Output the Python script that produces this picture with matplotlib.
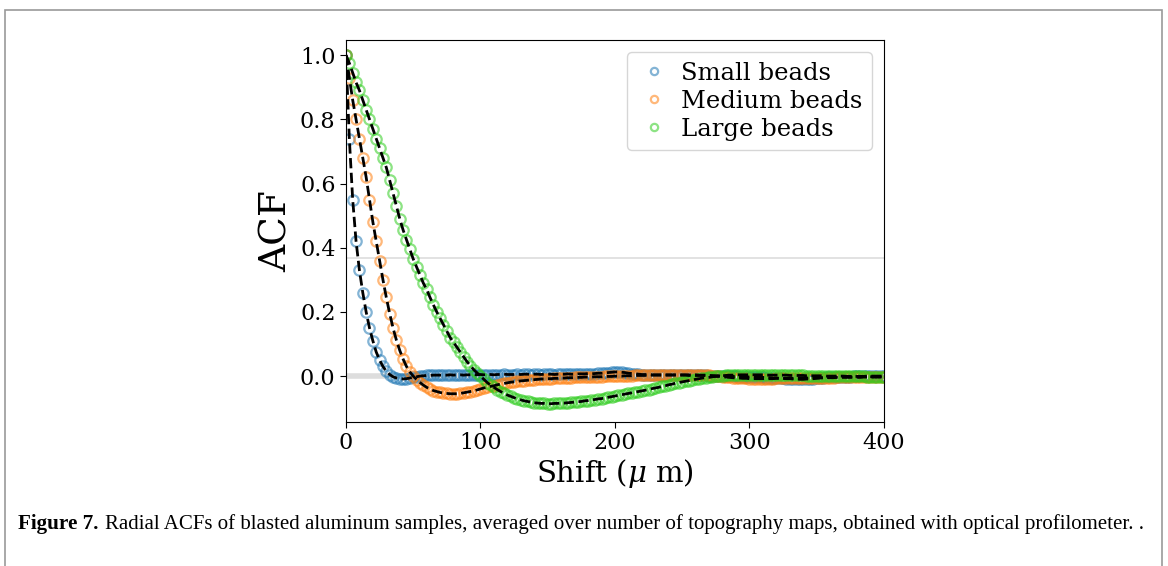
import matplotlib.pyplot as plt
import numpy as np
from matplotlib.patches import Rectangle

# Shift grid (micrometres) shared by all three ACF curves
shift = np.arange(0, 400.1, 2.5)

# Radial ACF values, one per shift value
small_acf = [
    1.00, 0.74, 0.55, 0.42, 0.33, 0.26, 0.20, 0.15, 0.11, 0.075,
    0.05, 0.03, 0.015, 0.005, -0.002, -0.006, -0.008, -0.009, -0.008, -0.006,
    -0.004, -0.002, 0.0, 0.001, 0.002, 0.002, 0.003, 0.003, 0.003, 0.003,
    0.003, 0.004, 0.003, 0.004, 0.004, 0.003, 0.004, 0.004, 0.005, 0.004,
    0.005, 0.004, 0.005, 0.005, 0.004, 0.005, 0.005, 0.006, 0.005, 0.005,
    0.005, 0.006, 0.005, 0.006, 0.006, 0.005, 0.006, 0.006, 0.005, 0.006,
    0.006, 0.006, 0.005, 0.006, 0.006, 0.006, 0.007, 0.006, 0.006, 0.007,
    0.007, 0.007, 0.008, 0.007, 0.008, 0.009, 0.009, 0.010, 0.011, 0.012,
    0.013, 0.013, 0.012, 0.011, 0.009, 0.008, 0.007, 0.006, 0.005, 0.005,
    0.005, 0.004, 0.004, 0.004, 0.004, 0.003, 0.003, 0.003, 0.003, 0.003,
    0.003, 0.003, 0.002, 0.002, 0.002, 0.002, 0.002, 0.002, 0.001, 0.001,
    0.001, 0.001, 0.0, 0.0, -0.001, -0.001, -0.001, -0.002, -0.002, -0.002,
    -0.003, -0.003, -0.003, -0.004, -0.004, -0.005, -0.005, -0.006, -0.006, -0.007,
    -0.007, -0.008, -0.008, -0.009, -0.009, -0.010, -0.010, -0.009, -0.009, -0.008,
    -0.007, -0.006, -0.005, -0.004, -0.004, -0.003, -0.003, -0.002, -0.002, -0.002,
    -0.002, -0.001, -0.001, -0.001, -0.001, 0.0, 0.0, 0.0, 0.0, 0.0, 0.0,
]

medium_acf = [
    1.00, 0.93, 0.86, 0.80, 0.74, 0.68, 0.62, 0.55, 0.48, 0.42,
    0.36, 0.30, 0.245, 0.195, 0.15, 0.112, 0.08, 0.053, 0.03, 0.013,
    0.0, -0.011, -0.02, -0.028, -0.035, -0.040, -0.045, -0.048, -0.051, -0.053,
    -0.054, -0.055, -0.055, -0.055, -0.054, -0.052, -0.050, -0.048, -0.046, -0.043,
    -0.040, -0.037, -0.035, -0.032, -0.030, -0.027, -0.025, -0.023, -0.021, -0.019,
    -0.018, -0.016, -0.015, -0.014, -0.013, -0.012, -0.011, -0.010, -0.009, -0.009,
    -0.008, -0.008, -0.007, -0.007, -0.006, -0.006, -0.005, -0.005, -0.004, -0.004,
    -0.004, -0.003, -0.003, -0.003, -0.002, -0.002, -0.002, -0.001, -0.001, -0.001,
    0.0, 0.0, 0.0, 0.001, 0.001, 0.001, 0.002, 0.002, 0.002, 0.002,
    0.003, 0.003, 0.003, 0.003, 0.003, 0.004, 0.004, 0.004, 0.004, 0.004,
    0.004, 0.004, 0.004, 0.004, 0.004, 0.003, 0.003, 0.003, 0.002, 0.001,
    0.0, -0.001, -0.002, -0.003, -0.004, -0.005, -0.006, -0.006, -0.007, -0.007,
    -0.008, -0.008, -0.008, -0.008, -0.008, -0.008, -0.008, -0.008, -0.007, -0.007,
    -0.007, -0.007, -0.007, -0.007, -0.006, -0.006, -0.006, -0.006, -0.006, -0.005,
    -0.005, -0.005, -0.005, -0.005, -0.005, -0.005, -0.004, -0.004, -0.004, -0.004,
    -0.004, -0.004, -0.004, -0.004, -0.003, -0.003, -0.003, -0.003, -0.003, -0.003, -0.003,
]

large_acf = [
    1.00, 0.975, 0.945, 0.915, 0.89, 0.86, 0.83, 0.80, 0.77, 0.74,
    0.71, 0.68, 0.65, 0.61, 0.57, 0.53, 0.49, 0.455, 0.425, 0.395,
    0.365, 0.34, 0.315, 0.29, 0.27, 0.245, 0.222, 0.20, 0.18, 0.16,
    0.14, 0.12, 0.105, 0.09, 0.075, 0.06, 0.045, 0.033, 0.02, 0.01,
    0.0, -0.01, -0.02, -0.028, -0.035, -0.042, -0.048, -0.054, -0.059, -0.063,
    -0.067, -0.071, -0.074, -0.077, -0.079, -0.081, -0.083, -0.084, -0.085, -0.085,
    -0.086, -0.086, -0.085, -0.085, -0.084, -0.084, -0.083, -0.082, -0.081, -0.080,
    -0.079, -0.077, -0.076, -0.074, -0.073, -0.071, -0.070, -0.068, -0.066, -0.064,
    -0.062, -0.060, -0.058, -0.056, -0.054, -0.052, -0.050, -0.048, -0.046, -0.044,
    -0.042, -0.039, -0.037, -0.035, -0.032, -0.030, -0.027, -0.025, -0.022, -0.020,
    -0.018, -0.016, -0.014, -0.012, -0.010, -0.008, -0.006, -0.005, -0.004, -0.002,
    -0.001, 0.0, 0.001, 0.002, 0.003, 0.003, 0.004, 0.004, 0.004, 0.004,
    0.004, 0.004, 0.004, 0.004, 0.004, 0.003, 0.003, 0.003, 0.003, 0.003,
    0.003, 0.003, 0.002, 0.002, 0.002, 0.002, 0.002, 0.001, 0.001, 0.001,
    0.001, 0.001, 0.001, 0.0, 0.0, 0.0, 0.0, 0.0, 0.0, -0.001,
    -0.001, -0.001, -0.001, -0.001, -0.001, -0.002, -0.002, -0.002, -0.002, -0.002, -0.002,
]

labels = ['Small beads', 'Medium beads', 'Large beads']
colors = ['#1f77b4', '#ff7f0e', '#2fcc1f']

plt.rcParams['font.family'] = 'DejaVu Serif'
plt.rcParams['mathtext.fontset'] = 'dejavuserif'

fig = plt.figure(figsize=(11.68, 5.66), dpi=100)

# outer frame of the figure panel
fig.patches.append(Rectangle((0.004, -0.05), 0.991, 1.032, transform=fig.transFigure,
                             fill=False, edgecolor='#9a9a9a', linewidth=1.2))

ax = fig.add_axes([0.2962, 0.2544, 0.4606, 0.6749])

# reference lines at 1/e and zero
ax.axhline(np.exp(-1), color='#dddddd', linewidth=1.2, zorder=0)
ax.axhline(0.0, color='#dddddd', linewidth=4, zorder=0)

for vals, lab, col in zip([small_acf, medium_acf, large_acf], labels, colors):
    ax.plot(shift, vals, 'o', markersize=7.5, markerfacecolor='none',
            markeredgecolor=col, markeredgewidth=1.6, alpha=0.55, label=lab)

for vals in [small_acf, medium_acf, large_acf]:
    ax.plot(shift, vals, '--', color='black', linewidth=2)

ax.set_xlim(0, 400)
ax.set_ylim(-0.143, 1.047)
ax.set_xticks([0, 100, 200, 300, 400])
ax.set_yticks([0.0, 0.2, 0.4, 0.6, 0.8, 1.0])
ax.tick_params(labelsize=16, length=4)
ax.set_xlabel(r'Shift ($\mu$ m)', fontsize=21, labelpad=2)
ax.set_ylabel('ACF', fontsize=27, labelpad=4)

leg = ax.legend(loc='upper right', fontsize=17.5, markerscale=0.7, handletextpad=0.4,
                borderpad=0.4, labelspacing=0.2, handlelength=1.4)
leg.get_frame().set_edgecolor('#cccccc')

# caption
fig.text(0.0155, 0.075, 'Figure 7.', fontsize=15.2, fontweight='bold',
         family='Liberation Serif', va='center')
fig.text(0.0895, 0.075, 'Radial ACFs of blasted aluminum samples, averaged over number of '
         'topography maps, obtained with optical profilometer. .',
         fontsize=15.0, family='Liberation Serif', va='center')

fig.savefig('out.png', dpi=100)
